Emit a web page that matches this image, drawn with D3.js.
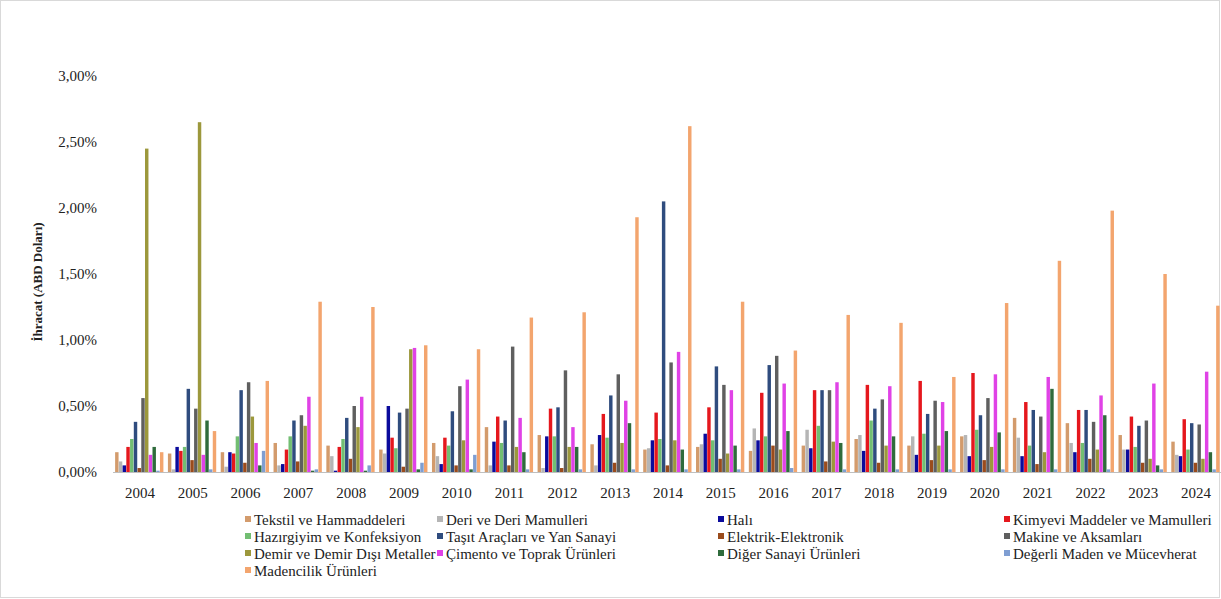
<!DOCTYPE html>
<html><head><meta charset="utf-8">
<script src="https://cdn.jsdelivr.net/npm/d3@7"></script>
<style>body{margin:0;background:#fff}svg{display:block}</style>
</head><body><svg id="c" width="1221" height="599"></svg>
<script>
const years = ["2004","2005","2006","2007","2008","2009","2010","2011","2012","2013","2014","2015","2016","2017","2018","2019","2020","2021","2022","2023","2024"];
const seriesNames = ["Tekstil ve Hammaddeleri","Deri ve Deri Mamulleri","Halı","Kimyevi Maddeler ve Mamulleri","Hazırgiyim ve Konfeksiyon","Taşıt Araçları ve Yan Sanayi","Elektrik-Elektronik","Makine ve Aksamları","Demir ve Demir Dışı Metaller","Çimento ve Toprak Ürünleri","Diğer Sanayi Ürünleri","Değerli Maden ve Mücevherat","Madencilik Ürünleri"];
const seriesColors = ["#d39b6c","#b5b5b5","#0b0b9c","#e5171d","#72be72","#2f4c7e","#9a4b1c","#5f5f5f","#9c983c","#e042e6","#2f6b3c","#7f9ed2","#f3a56e"];
// values in percent, one array per series, one value per year
const tekstil   = [0.15,0.14,0.15,0.22,0.20,0.17,0.22,0.34,0.28,0.21,0.17,0.19,0.16,0.20,0.25,0.20,0.27,0.41,0.37,0.28,0.23];
const deri      = [0.08,0.02,0.04,0.05,0.12,0.14,0.12,0.05,0.03,0.05,0.18,0.21,0.33,0.32,0.28,0.27,0.28,0.26,0.22,0.17,0.13];
const hali      = [0.05,0.19,0.15,0.06,0.01,0.50,0.06,0.23,0.27,0.28,0.24,0.29,0.24,0.18,0.16,0.13,0.12,0.12,0.15,0.17,0.12];
const kimyevi   = [0.19,0.16,0.14,0.17,0.19,0.26,0.26,0.42,0.48,0.44,0.45,0.49,0.60,0.62,0.66,0.69,0.75,0.53,0.47,0.42,0.40];
const hazir     = [0.25,0.19,0.27,0.27,0.25,0.18,0.20,0.22,0.27,0.26,0.25,0.24,0.27,0.35,0.39,0.29,0.32,0.20,0.22,0.19,0.17];
const tasit     = [0.38,0.63,0.62,0.39,0.41,0.45,0.46,0.39,0.49,0.58,2.05,0.80,0.81,0.62,0.48,0.44,0.43,0.47,0.47,0.35,0.37];
const elektrik  = [0.03,0.09,0.07,0.08,0.10,0.04,0.05,0.05,0.03,0.07,0.05,0.10,0.20,0.08,0.07,0.09,0.09,0.06,0.10,0.07,0.07];
const makine    = [0.56,0.48,0.68,0.43,0.50,0.48,0.65,0.95,0.77,0.74,0.83,0.66,0.88,0.62,0.55,0.54,0.56,0.42,0.38,0.39,0.36];
const demir     = [2.45,2.65,0.42,0.35,0.34,0.93,0.24,0.19,0.19,0.22,0.24,0.14,0.17,0.23,0.20,0.20,0.19,0.15,0.17,0.10,0.10];
const cimento   = [0.13,0.13,0.22,0.57,0.57,0.94,0.70,0.41,0.34,0.54,0.91,0.62,0.67,0.68,0.65,0.53,0.74,0.72,0.58,0.67,0.76];
const diger     = [0.19,0.39,0.05,0.01,0.01,0.02,0.02,0.15,0.19,0.37,0.17,0.20,0.31,0.22,0.27,0.31,0.30,0.63,0.43,0.05,0.15];
const degerli   = [0.01,0.02,0.16,0.02,0.05,0.07,0.13,0.02,0.02,0.02,0.02,0.02,0.03,0.02,0.02,0.02,0.02,0.02,0.02,0.02,0.02];
const madencilik= [0.15,0.31,0.69,1.29,1.25,0.96,0.93,1.17,1.21,1.93,2.62,1.29,0.92,1.19,1.13,0.72,1.28,1.60,1.98,1.50,1.26];
const yTicks = [0,0.5,1,1.5,2,2.5,3];
const yTickLabels = ["0,00%","0,50%","1,00%","1,50%","2,00%","2,50%","3,00%"];
const yTitle = "İhracat (ABD Doları)";

const seriesValues = [tekstil,deri,hali,kimyevi,hazir,tasit,elektrik,makine,demir,cimento,diger,degerli,madencilik];
const FONT = "'Liberation Serif', 'Times New Roman', serif";

const svg = d3.select("#c");
svg.append("rect").attr("x",0.5).attr("y",0.5).attr("width",1219).attr("height",597)
  .attr("fill","#fff").attr("stroke","#d9d9d9");

const pL=113, pR=1222, pT=76, pB=472;
const x0 = d3.scaleBand().domain(years).range([pL,pR]).paddingInner(0.08).paddingOuter(0.04);
const x1 = d3.scaleBand().domain(d3.range(seriesNames.length)).range([0,x0.bandwidth()]);
const y = d3.scaleLinear().domain([0,3]).range([pB,pT]);

const g = svg.append("g");
years.forEach((yr,i)=>{
  const gg = g.append("g").attr("transform",`translate(${x0(yr)},0)`);
  seriesValues.forEach((arr,s)=>{
    gg.append("rect").attr("x",x1(s)).attr("width",x1.bandwidth()-0.3)
      .attr("y",y(arr[i])).attr("height",y(0)-y(arr[i])).attr("fill",seriesColors[s]);
  });
});

// x axis
const xAxis = d3.axisBottom(d3.scalePoint().domain(years).range([x0(years[0])+x0.bandwidth()/2, x0(years[years.length-1])+x0.bandwidth()/2])).tickSize(0).tickPadding(15);
svg.append("line").attr("x1",pL).attr("x2",pR).attr("y1",pB+0.5).attr("y2",pB+0.5).attr("stroke","#bfbfbf");
const xt = svg.append("g").attr("transform",`translate(0,${pB})`).call(xAxis);
xt.select(".domain").remove();
xt.selectAll("text").attr("font-size",15).attr("fill","#222").style("font-family",FONT);

// y axis
const yAxis = d3.axisLeft(y).tickValues(yTicks).tickFormat((d,i)=>yTickLabels[i]).tickSize(0).tickPadding(16);
const yg = svg.append("g").attr("transform",`translate(${pL},0)`).call(yAxis);
yg.select(".domain").remove();
yg.selectAll("text").attr("font-size",15).attr("fill","#222").style("font-family",FONT);

svg.append("text").attr("transform",`translate(42,${(pT+pB)/2+8}) rotate(-90)`).style("font-family",FONT)
  .attr("text-anchor","middle").attr("font-size",13).attr("font-weight","bold").attr("fill","#222").text(yTitle);

// legend
const colX = [245,437,718,1004];
const rowY = [521,538,555,572];
seriesNames.forEach((n,i)=>{
  const cx = colX[i%4], cy = rowY[Math.floor(i/4)];
  svg.append("rect").attr("x",cx).attr("y",cy-5).attr("width",6).attr("height",6).attr("fill",seriesColors[i]);
  svg.append("text").attr("x",cx+9).attr("y",cy+4).style("font-family",FONT).attr("font-size",15).attr("fill","#222").text(n);
});
</script></body></html>
